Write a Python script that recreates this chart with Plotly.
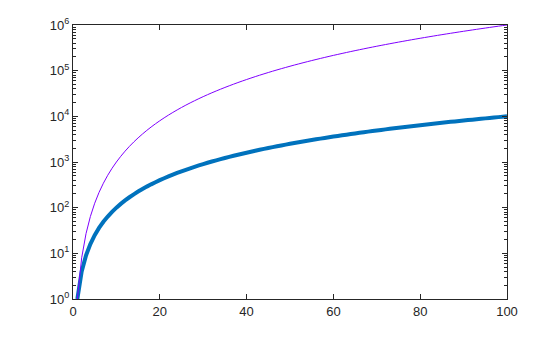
import plotly.graph_objects as go

x_vals = list(range(1, 101))
y_square = [1, 4, 9, 16, 25, 36, 49, 64, 81, 100, 121, 144, 169, 196, 225, 256, 289, 324, 361, 400,
            441, 484, 529, 576, 625, 676, 729, 784, 841, 900, 961, 1024, 1089, 1156, 1225, 1296, 1369,
            1444, 1521, 1600, 1681, 1764, 1849, 1936, 2025, 2116, 2209, 2304, 2401, 2500, 2601, 2704,
            2809, 2916, 3025, 3136, 3249, 3364, 3481, 3600, 3721, 3844, 3969, 4096, 4225, 4356, 4489,
            4624, 4761, 4900, 5041, 5184, 5329, 5476, 5625, 5776, 5929, 6084, 6241, 6400, 6561, 6724,
            6889, 7056, 7225, 7396, 7569, 7744, 7921, 8100, 8281, 8464, 8649, 8836, 9025, 9216, 9409,
            9604, 9801, 10000]
y_cube = [1, 8, 27, 64, 125, 216, 343, 512, 729, 1000, 1331, 1728, 2197, 2744, 3375, 4096, 4913, 5832,
          6859, 8000, 9261, 10648, 12167, 13824, 15625, 17576, 19683, 21952, 24389, 27000, 29791, 32768,
          35937, 39304, 42875, 46656, 50653, 54872, 59319, 64000, 68921, 74088, 79507, 85184, 91125,
          97336, 103823, 110592, 117649, 125000, 132651, 140608, 148877, 157464, 166375, 175616, 185193,
          195112, 205379, 216000, 226981, 238328, 250047, 262144, 274625, 287496, 300763, 314432, 328509,
          343000, 357911, 373248, 389017, 405224, 421875, 438976, 456533, 474552, 493039, 512000, 531441,
          551368, 571787, 592704, 614125, 636056, 658503, 681472, 704969, 729000, 753571, 778688, 804357,
          830584, 857375, 884736, 912673, 941192, 970299, 1000000]

x_ticks = [0, 20, 40, 60, 80, 100]
y_ticks = [1, 10, 100, 1000, 10000, 100000, 1000000]
y_tick_text = ["10<sup>0</sup>", "10<sup>1</sup>", "10<sup>2</sup>", "10<sup>3</sup>",
               "10<sup>4</sup>", "10<sup>5</sup>", "10<sup>6</sup>"]
y_minor = [m * 10 ** d for d in range(6) for m in range(2, 10)]

fig = go.Figure()
fig.add_trace(go.Scatter(x=x_vals, y=y_square, mode="lines",
                         line=dict(color="#0072BD", width=4, simplify=False), showlegend=False))
fig.add_trace(go.Scatter(x=x_vals, y=y_cube, mode="lines",
                         line=dict(color="#7F00FF", width=1, simplify=False), showlegend=False))

axis_color = "#262626"
fig.update_layout(
    width=560, height=337,
    margin=dict(l=73, r=53, t=25, b=38),
    paper_bgcolor="white", plot_bgcolor="white",
    font=dict(family="Liberation Sans, Arial, sans-serif", size=13, color=axis_color),
)
fig.update_xaxes(
    range=[0, 100], tickvals=x_ticks, ticks="inside", ticklen=5, tickcolor=axis_color,
    showline=True, linecolor=axis_color, linewidth=1, mirror="ticks",
    showgrid=False, zeroline=False,
)
fig.update_yaxes(
    type="log", range=[0, 6], tickvals=y_ticks, ticktext=y_tick_text,
    ticks="inside", ticklen=5, tickcolor=axis_color,
    showline=True, linecolor=axis_color, linewidth=1, mirror="ticks",
    showgrid=False, zeroline=False,
    minor=dict(ticks="inside", ticklen=3, tickcolor=axis_color, showgrid=False,
               tickvals=y_minor),
)

fig.write_html("out.html")
